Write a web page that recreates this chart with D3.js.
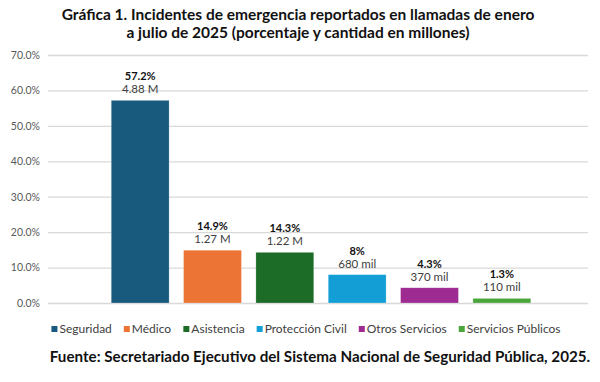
<!DOCTYPE html>
<html><head><meta charset="utf-8">
<script src="https://cdn.jsdelivr.net/npm/d3@7"></script>
<style>body{margin:0;background:#fff}svg{display:block;font-family:Lato,"Open Sans",sans-serif}</style>
</head><body><svg id="c" width="600" height="382"></svg>
<script>
const categories = ["Seguridad","Médico","Asistencia","Protección Civil","Otros Servicios","Servicios Públicos"];
const percents = [57.2,14.9,14.3,8,4.3,1.3];
const pctLabels = ["57.2%","14.9%","14.3%","8%","4.3%","1.3%"];
const amountLabels = ["4.88 M","1.27 M","1.22 M","680 mil","370 mil","110 mil"];
const colors = ["#175a7e","#ec7434","#1c6b27","#139fd6","#9e2b92","#4aa63a"];
const yTicks = [0,10,20,30,40,50,60,70];
const titleLines = ["Gráfica 1. Incidentes de emergencia reportados en llamadas de enero","a julio de 2025 (porcentaje y cantidad en millones)"];
const source = "Fuente: Secretariado Ejecutivo del Sistema Nacional de Seguridad Pública, 2025.";

const svg = d3.select("#c");
const y = d3.scaleLinear().domain([0,70]).range([303,55]);
const x = d3.scaleBand().domain(categories).range([104,538]).paddingInner(0.2).paddingOuter(0.1);

svg.append("g").selectAll("text").data(titleLines).join("text")
  .attr("x",298).attr("y",(d,i)=>20+i*18).attr("text-anchor","middle")
  .attr("font-size",15.5).attr("font-weight",700).attr("fill","#111").text(d=>d);

const gAxis = svg.append("g").attr("transform","translate(48,0)")
  .call(d3.axisLeft(y).tickValues(yTicks).tickSize(-540).tickFormat(d=>d.toFixed(1)+"%"));
gAxis.select(".domain").remove();
gAxis.selectAll(".tick line").attr("stroke","#d9d9d9").attr("stroke-width",1.3);
gAxis.selectAll(".tick text").attr("x",-8).attr("fill","#595959").attr("font-size",10.5).attr("font-family","Lato,sans-serif");

svg.append("g").selectAll("rect").data(categories).join("rect")
  .attr("x",d=>x(d)).attr("width",x.bandwidth())
  .attr("y",(d,i)=>y(percents[i])).attr("height",(d,i)=>y(0)-y(percents[i]))
  .attr("fill",(d,i)=>colors[i]).attr("stroke","#fff").attr("stroke-opacity",0.4).attr("stroke-width",0.6);

const lab = svg.append("g");
lab.selectAll("text.p").data(categories).join("text").attr("class","p")
  .attr("x",d=>x(d)+x.bandwidth()/2).attr("y",(d,i)=>y(percents[i])-20)
  .attr("text-anchor","middle").attr("font-size",11).attr("font-weight",700).attr("fill","#111")
  .text((d,i)=>pctLabels[i]);
lab.selectAll("text.a").data(categories).join("text").attr("class","a")
  .attr("x",d=>x(d)+x.bandwidth()/2).attr("y",(d,i)=>y(percents[i])-7)
  .attr("text-anchor","middle").attr("font-size",11.5).attr("fill","#404040")
  .text((d,i)=>amountLabels[i]);

// legend
const leg = svg.append("g");
const items = leg.selectAll("g").data(categories).join("g");
items.append("rect").attr("width",6).attr("height",6).attr("y",-7).attr("fill",(d,i)=>colors[i]);
items.append("text").attr("x",8).attr("y",0).attr("font-size",12).attr("fill","#404040").text(d=>d);
let widths = [];
items.each(function(){widths.push(this.getBBox().width);});
const gap = 12;
const total = d3.sum(widths)+gap*(widths.length-1);
let cx = 306-total/2;
items.attr("transform",(d,i)=>{const t=`translate(${cx},333)`; cx+=widths[i]+gap; return t;});

svg.append("text").attr("x",320).attr("y",362).attr("text-anchor","middle")
  .attr("font-size",15.2).attr("font-weight",700).attr("fill","#111").text(source);
</script></body></html>
